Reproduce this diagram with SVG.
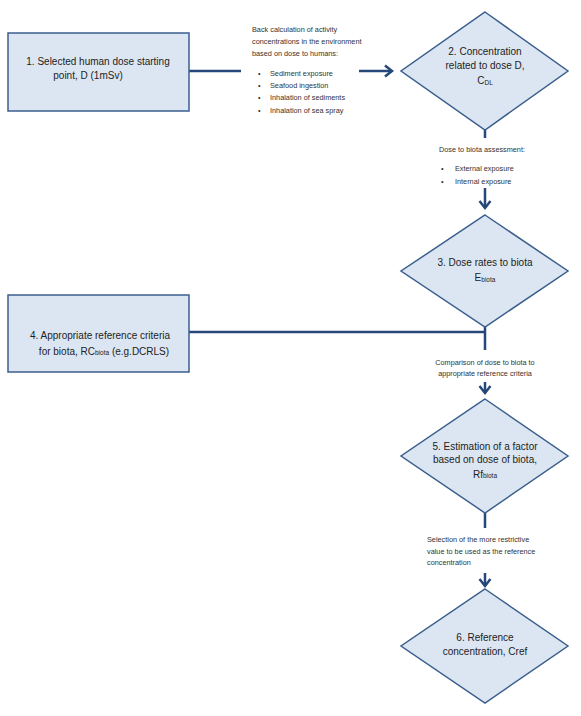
<svg xmlns="http://www.w3.org/2000/svg" width="581" height="716" viewBox="0 0 581 716">
<style>
.node{fill:#dce6f2;stroke:#3b5f8d;stroke-width:1.5}
.lbl{font-family:"Liberation Sans",Arial,sans-serif;font-size:10px;fill:#222;text-anchor:middle}
.note{font-family:"Liberation Sans",Arial,sans-serif;font-size:7.3px;fill:#333}
.conn{fill:none;stroke:#25477a;stroke-width:2.5}
.sub{font-size:6.5px}
</style>
<defs>
<marker id="arr" markerUnits="userSpaceOnUse" markerWidth="16" markerHeight="16" refX="12" refY="8" orient="auto" viewBox="0 0 16 16">
<path d="M5,2.5 L12,8 L5,13.5" fill="none" stroke="#25477a" stroke-width="2.5" stroke-linejoin="miter"/>
</marker>
</defs>
<rect width="581" height="716" fill="#ffffff"/>
<g id="connectors">
<line class="conn" x1="189" y1="71" x2="241" y2="71"/>
<line class="conn" x1="359" y1="71" x2="392" y2="71" marker-end="url(#arr)"/>
<line class="conn" x1="485" y1="130" x2="485" y2="138"/>
<line class="conn" x1="485" y1="188" x2="485" y2="208" marker-end="url(#arr)"/>
<polyline class="conn" points="189,332 485,332"/>
<line class="conn" x1="485" y1="327" x2="485" y2="350"/>
<line class="conn" x1="485" y1="382" x2="485" y2="393" marker-end="url(#arr)"/>
<line class="conn" x1="485" y1="513" x2="485" y2="528"/>
<line class="conn" x1="485" y1="573" x2="485" y2="586" marker-end="url(#arr)"/>
</g>
<g id="node1">
<rect class="node" x="8" y="33" width="181" height="78"/>
<text class="lbl" x="98" y="65">1. Selected human dose starting</text>
<text class="lbl" x="88" y="79">point, D (1mSv)</text>
</g>
<g id="note1">
<text class="note" x="252" y="32">Back calculation of activity</text>
<text class="note" x="252" y="44">concentrations in the environment</text>
<text class="note" x="252" y="56">based on dose to humans:</text>
<text class="note" x="258" y="76">•</text><text class="note" x="270" y="76">Sediment exposure</text>
<text class="note" x="258" y="88">•</text><text class="note" x="270" y="88">Seafood ingestion</text>
<text class="note" x="258" y="100">•</text><text class="note" x="270" y="100">Inhalation of sediments</text>
<text class="note" x="258" y="113">•</text><text class="note" x="270" y="113">Inhalation of sea spray</text>
</g>
<g id="node2">
<polygon class="node" points="485,12 568,71 485,130 401,71"/>
<text class="lbl" x="485" y="55">2. Concentration</text>
<text class="lbl" x="485" y="69">related to dose D,</text>
<text class="lbl" x="485" y="84">C<tspan class="sub" dy="1">DL</tspan></text>
</g>
<g id="note2">
<text class="note" x="439" y="152">Dose to biota assessment:</text>
<text class="note" x="441" y="171">•</text><text class="note" x="455" y="171">External exposure</text>
<text class="note" x="441" y="184">•</text><text class="note" x="455" y="184">Internal exposure</text>
</g>
<g id="node3">
<polygon class="node" points="485,215 568,271 485,327 401,271"/>
<text class="lbl" x="485" y="266">3. Dose rates to biota</text>
<text class="lbl" x="485" y="281">E<tspan class="sub" dy="1">biota</tspan></text>
</g>
<g id="node4">
<rect class="node" x="8" y="295" width="181" height="77"/>
<text class="lbl" x="100" y="339">4. Appropriate reference criteria</text>
<text class="lbl" x="104" y="355">for biota, RC<tspan class="sub">biota</tspan> (e.g.DCRLS)</text>
</g>
<g id="note3">
<text class="note" x="485" y="365" text-anchor="middle">Comparison of dose to biota to</text>
<text class="note" x="485" y="376" text-anchor="middle">appropriate reference criteria</text>
</g>
<g id="node5">
<polygon class="node" points="485,399 568,456 485,513 401,456"/>
<text class="lbl" x="485" y="450">5. Estimation of a factor</text>
<text class="lbl" x="485" y="463">based on dose of biota,</text>
<text class="lbl" x="485" y="478">Rf<tspan class="sub">biota</tspan></text>
</g>
<g id="note4">
<text class="note" x="427" y="542">Selection of the more restrictive</text>
<text class="note" x="427" y="554">value to be used as the reference</text>
<text class="note" x="427" y="565">concentration</text>
</g>
<g id="node6">
<polygon class="node" points="485,589 568,646 485,703 401,646"/>
<text class="lbl" x="485" y="641">6. Reference</text>
<text class="lbl" x="485" y="655">concentration, Cref</text>
</g>
</svg>
